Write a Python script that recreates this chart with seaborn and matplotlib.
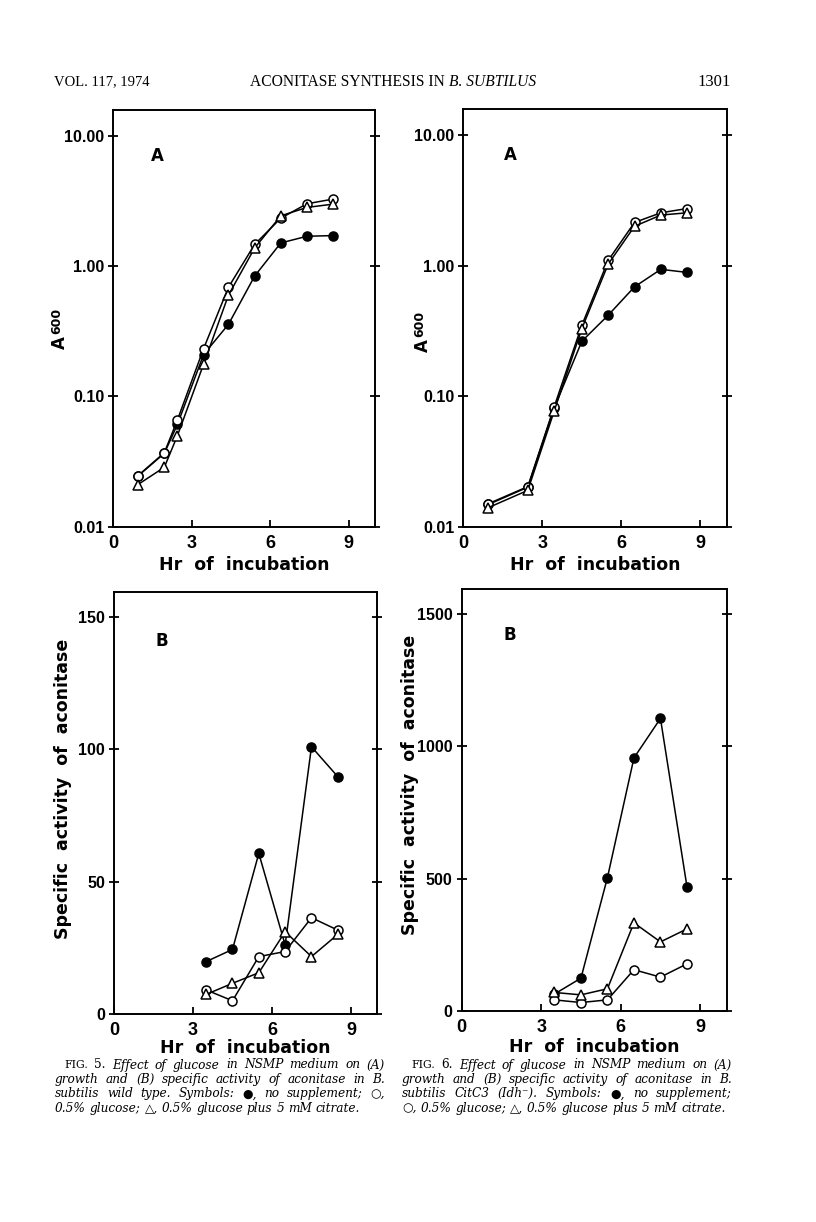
import numpy as np
import pandas as pd
import matplotlib
matplotlib.use("Agg")
import matplotlib.pyplot as plt
import seaborn as sns

# Fig. 5 (wild type) - growth, A600
hr_5a = [0.93, 1.95, 2.45, 3.45, 4.4, 5.4, 6.4, 7.4, 8.4]
a600_none_5 = [0.0244, 0.0366, 0.061, 0.21, 0.358, 0.84, 1.51, 1.70, 1.72]
a600_glc_5 = [0.0245, 0.037, 0.066, 0.233, 0.69, 1.47, 2.34, 3.02, 3.28]
a600_cit_5 = [0.021, 0.0286, 0.050, 0.177, 0.60, 1.38, 2.44, 2.83, 3.0]

# Fig. 6 (CitC3) - growth, A600
hr_6a = [0.95, 2.45, 3.45, 4.5, 5.5, 6.5, 7.5, 8.5]
a600_none_6 = [0.0148, 0.0201, 0.0814, 0.264, 0.418, 0.69, 0.94, 0.89]
a600_glc_6 = [0.015, 0.0203, 0.083, 0.35, 1.10, 2.15, 2.55, 2.75]
a600_cit_6 = [0.014, 0.019, 0.077, 0.33, 1.03, 2.01, 2.45, 2.55]

# specific activity of aconitase
hr_b = [3.5, 4.5, 5.5, 6.5, 7.5, 8.5]
act_none_5 = [19.8, 24.4, 60.7, 26.1, 101, 89.7]
act_glc_5 = [9.1, 5.0, 21.7, 23.6, 36.4, 31.7]
act_cit_5 = [7.4, 11.6, 15.6, 31.1, 21.7, 30.1]

act_none_6 = [64, 124, 504, 956, 1105, 470]
act_glc_6 = [42, 32, 42, 156, 128, 178]
act_cit_6 = [70, 61, 84, 333, 261, 310]

log_ticks = [0.01, 0.1, 1, 10]
log_labels = ["0.01", "0.10", "1.00", "10.00"]
x_ticks = [0, 3, 6, 9]

sns.set_style("ticks")
plt.rcParams["font.family"] = ["DejaVu Sans"]
plt.rcParams["text.color"] = "black"
plt.rcParams["axes.labelcolor"] = "black"
plt.rcParams["xtick.color"] = "black"
plt.rcParams["ytick.color"] = "black"

W, H = 816, 1222
fig = plt.figure(figsize=(W / 100, H / 100), dpi=100)
renderer = fig.canvas.get_renderer()
tick_font = ["Liberation Sans", "DejaVu Sans"]


def px_axes(x0, y0, x1, y1):
    return fig.add_axes([x0 / W, 1 - y1 / H, (x1 - x0) / W, (y1 - y0) / H])


def draw_series(ax, x, y, marker, filled):
    df = pd.DataFrame({"hr": x, "val": y})
    sns.lineplot(data=df, x="hr", y="val", ax=ax, color="black", lw=1.1,
                 marker=marker, markersize=6.5,
                 markerfacecolor="black" if filled else "white",
                 markeredgecolor="black", markeredgewidth=1.1,
                 estimator=None, sort=False, legend=False)


def style_axes(ax):
    for s in ax.spines.values():
        s.set_linewidth(1.4)
        s.set_color("black")
    ax.tick_params(axis="y", which="major", direction="inout", length=7,
                   width=1.3, right=True, left=True, pad=3)
    ax.tick_params(axis="x", which="major", direction="in", length=5,
                   width=1.3, pad=6)
    ax.tick_params(which="minor", length=0)
    ax.set_xlim(0, 10)
    ax.set_xticks(x_ticks)
    ax.set_xticklabels([str(t) for t in x_ticks])
    ax.set_ylabel("")


def xlabel(ax, pad):
    ax.set_xlabel("Hr  of  incubation", fontsize=12.5, fontweight="bold",
                  labelpad=pad)


# top-left: Fig 5A
ax1 = px_axes(113.3, 110, 375, 526.7)
draw_series(ax1, hr_5a, a600_none_5, "o", True)
draw_series(ax1, hr_5a, a600_glc_5, "o", False)
draw_series(ax1, hr_5a, a600_cit_5, "^", False)
ax1.set_yscale("log")
ax1.set_ylim(0.01, 10 ** 1.2)
ax1.set_yticks(log_ticks)
ax1.set_yticklabels(log_labels)
style_axes(ax1)
xlabel(ax1, 3)
ax1.text(0.17, 0.89, "A", transform=ax1.transAxes, fontsize=12,
         fontweight="bold", ha="center", va="center")

# top-right: Fig 6A
ax2 = px_axes(463.3, 109.3, 726.7, 526.7)
draw_series(ax2, hr_6a, a600_none_6, "o", True)
draw_series(ax2, hr_6a, a600_glc_6, "o", False)
draw_series(ax2, hr_6a, a600_cit_6, "^", False)
ax2.set_yscale("log")
ax2.set_ylim(0.01, 10 ** 1.2)
ax2.set_yticks(log_ticks)
ax2.set_yticklabels(log_labels)
style_axes(ax2)
xlabel(ax2, 3)
ax2.text(0.18, 0.89, "A", transform=ax2.transAxes, fontsize=12,
         fontweight="bold", ha="center", va="center")

# bottom-left: Fig 5B
ax3 = px_axes(114, 592, 377.3, 1014)
draw_series(ax3, hr_b, act_none_5, "o", True)
draw_series(ax3, hr_b, act_glc_5, "o", False)
draw_series(ax3, hr_b, act_cit_5, "^", False)
ax3.set_ylim(0, 159.5)
ax3.set_yticks([0, 50, 100, 150])
ax3.set_yticklabels(["0", "50", "100", "150"])
style_axes(ax3)
xlabel(ax3, 0)
ax3.text(0.18, 0.885, "B", transform=ax3.transAxes, fontsize=12,
         fontweight="bold", ha="center", va="center")

# bottom-right: Fig 6B
ax4 = px_axes(461.7, 589, 726.7, 1011)
draw_series(ax4, hr_b, act_none_6, "o", True)
draw_series(ax4, hr_b, act_glc_6, "o", False)
draw_series(ax4, hr_b, act_cit_6, "^", False)
ax4.set_ylim(0, 1594)
ax4.set_yticks([0, 500, 1000, 1500])
ax4.set_yticklabels(["0", "500", "1000", "1500"])
style_axes(ax4)
xlabel(ax4, 1)
ax4.text(0.18, 0.89, "B", transform=ax4.transAxes, fontsize=12,
         fontweight="bold", ha="center", va="center")

for ax in (ax1, ax2, ax3, ax4):
    for lab in ax.get_yticklabels():
        lab.set_fontweight("bold")
        lab.set_family(tick_font)
        lab.set_fontsize(11.5)
    for lab in ax.get_xticklabels():
        lab.set_fontweight("bold")
        lab.set_family(tick_font)
        lab.set_fontsize(13)

# y labels of the activity panels
for xa, ya in [(63, 789), (410, 785)]:
    fig.text(xa / W, 1 - ya / H, "Specific  activity  of  aconitase",
             rotation=90, fontsize=12.5, fontweight="bold",
             ha="center", va="center")

# A600 labels on the growth panels
for xa, ya in [(60, 343), (423, 346)]:
    fig.text(xa / W, 1 - ya / H, "A", rotation=90, fontsize=12,
             fontweight="bold", ha="center", va="center")
    fig.text((xa - 3) / W, 1 - (ya - 22) / H, "600", rotation=90,
             fontsize=9, fontweight="bold", ha="center", va="center")

# running head
serif = ["Liberation Serif", "DejaVu Serif"]
fig.text(54 / W, 1 - 82 / H, "VOL. 117, 1974", family=serif, fontsize=10.5,
         ha="left", va="center")
fig.text(449 / W, 1 - 82 / H, "ACONITASE SYNTHESIS IN ", family=serif,
         fontsize=11.2, ha="right", va="center")
fig.text(449 / W, 1 - 82 / H, "B. SUBTILUS", family=serif, style="italic",
         fontsize=11.2, ha="left", va="center")
fig.text(731 / W, 1 - 82 / H, "1301", family=serif, fontsize=12,
         ha="right", va="center")

# captions (justified like the printed page)
cap5 = ["growth and (B) specific activity of aconitase in B.",
        "subtilis wild type. Symbols: \u25cf, no supplement; \u25cb,",
        "0.5% glucose; \u25b3, 0.5% glucose plus 5 mM citrate."]
cap6 = ["growth and (B) specific activity of aconitase in B.",
        "subtilis CitC3 (Idh\u207b). Symbols: \u25cf, no supplement;",
        "\u25cb, 0.5% glucose; \u25b3, 0.5% glucose plus 5 mM citrate."]
cap_font = ["DejaVu Serif"]
cap_size = 8.7


def place_words(words, x0, x1, y, justify):
    """words: list of (text, style, size). Lay out on one line."""
    items = []
    for w, st, sz in words:
        t = fig.text(x0 / W, 1 - y / H, w, family=cap_font, style=st,
                     fontsize=sz, ha="left", va="center")
        items.append((t, t.get_window_extent(renderer).width))
    total = sum(wd for _, wd in items)
    if justify and len(items) > 1:
        gap = (x1 - x0 - total) / (len(items) - 1)
    else:
        gap = cap_size * 100 / 72 * 0.32
    x = x0
    for t, wd in items:
        t.set_x(x / W)
        x += wd + gap


for x0, num, lines in [(55, "5", cap5), (402, "6", cap6)]:
    x1 = x0 + 330
    head = [("FIG.", "normal", 7.8), (num + ".", "normal", cap_size)]
    head += [(w, "italic", cap_size)
             for w in "Effect of glucose in NSMP medium on (A)".split()]
    place_words(head, x0 + 9, x1, 1065, True)
    for i, line in enumerate(lines):
        words = [(w, "italic", cap_size) for w in line.split()]
        place_words(words, x0, x1, 1079.5 + 14.3 * i, i < 2)

fig.savefig("out.png", dpi=100)
